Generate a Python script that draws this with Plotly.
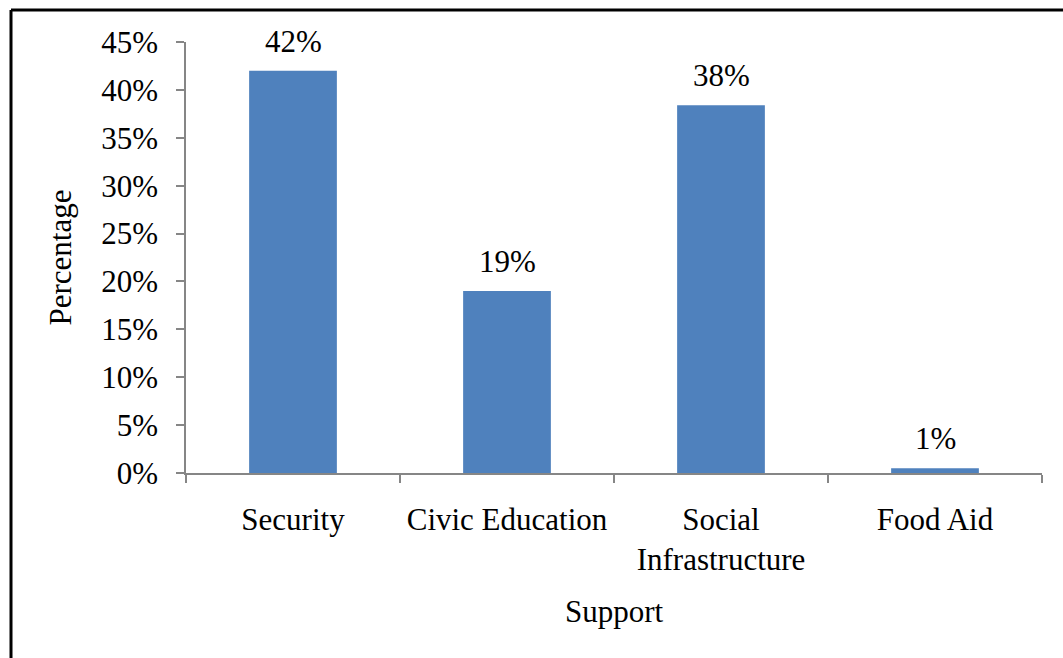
import plotly.graph_objects as go

# Share of respondents by type of support
categories = ["Security", "Civic Education", "Social<br>Infrastructure", "Food Aid"]
percentages = [42, 19, 38.4, 0.5]
y_ticks = [0, 5, 10, 15, 20, 25, 30, 35, 40, 45]

W, H = 1063, 658
L, R, T, B = 186, 21, 42, 185
plot_w = W - L - R
plot_h = H - T - B

FONT = "Liberation Serif"
FS = 31
AXIS_GREY = "#868686"
BAR_BLUE = "#4F81BD"

fig = go.Figure(
    go.Bar(
        x=categories,
        y=percentages,
        marker=dict(color=BAR_BLUE, line=dict(width=0)),
        hoverinfo="skip",
    )
)

# Value labels above each bar
for cat, val in zip(categories, percentages):
    fig.add_annotation(
        x=cat, y=val, text=f"{round(val + 0.001):.0f}%",
        showarrow=False, yanchor="bottom", yshift=10,
        font=dict(family=FONT, size=FS, color="#000000"),
    )


def px_to_paper_x(px):
    return (px - L) / plot_w


def px_to_paper_y(py):
    return (H - B - py) / plot_h


# Chart frame (left and top edges)
frame = dict(color="#000000", width=3)
fig.add_shape(type="line", xref="paper", yref="paper",
              x0=px_to_paper_x(11), x1=px_to_paper_x(W + 5),
              y0=px_to_paper_y(10), y1=px_to_paper_y(10), line=frame)
fig.add_shape(type="line", xref="paper", yref="paper",
              x0=px_to_paper_x(11), x1=px_to_paper_x(11),
              y0=px_to_paper_y(10), y1=px_to_paper_y(H + 5), line=frame)

fig.update_layout(
    width=W,
    height=H,
    margin=dict(l=L, r=R, t=T, b=B),
    paper_bgcolor="#FFFFFF",
    plot_bgcolor="#FFFFFF",
    bargap=0.59,
    showlegend=False,
    font=dict(family=FONT, size=FS, color="#000000"),
    xaxis=dict(
        title=dict(text="Support", font=dict(family=FONT, size=FS), standoff=24),
        showline=True,
        linecolor=AXIS_GREY,
        linewidth=1.5,
        ticks="outside",
        tickson="boundaries",
        ticklen=8,
        tickcolor=AXIS_GREY,
        tickwidth=1.5,
        showgrid=False,
        tickfont=dict(family=FONT, size=FS),
        ticklabelstandoff=18,
    ),
    yaxis=dict(
        title=dict(text="Percentage", font=dict(family=FONT, size=FS), standoff=20),
        range=[0, 45],
        tickvals=y_ticks,
        ticktext=[f"{v}%" for v in y_ticks],
        showline=True,
        linecolor=AXIS_GREY,
        linewidth=1.5,
        ticks="outside",
        ticklen=8,
        tickcolor=AXIS_GREY,
        tickwidth=1.5,
        showgrid=False,
        zeroline=False,
        tickfont=dict(family=FONT, size=FS),
        ticklabelstandoff=12,
    ),
)

fig.write_html("out.html")
